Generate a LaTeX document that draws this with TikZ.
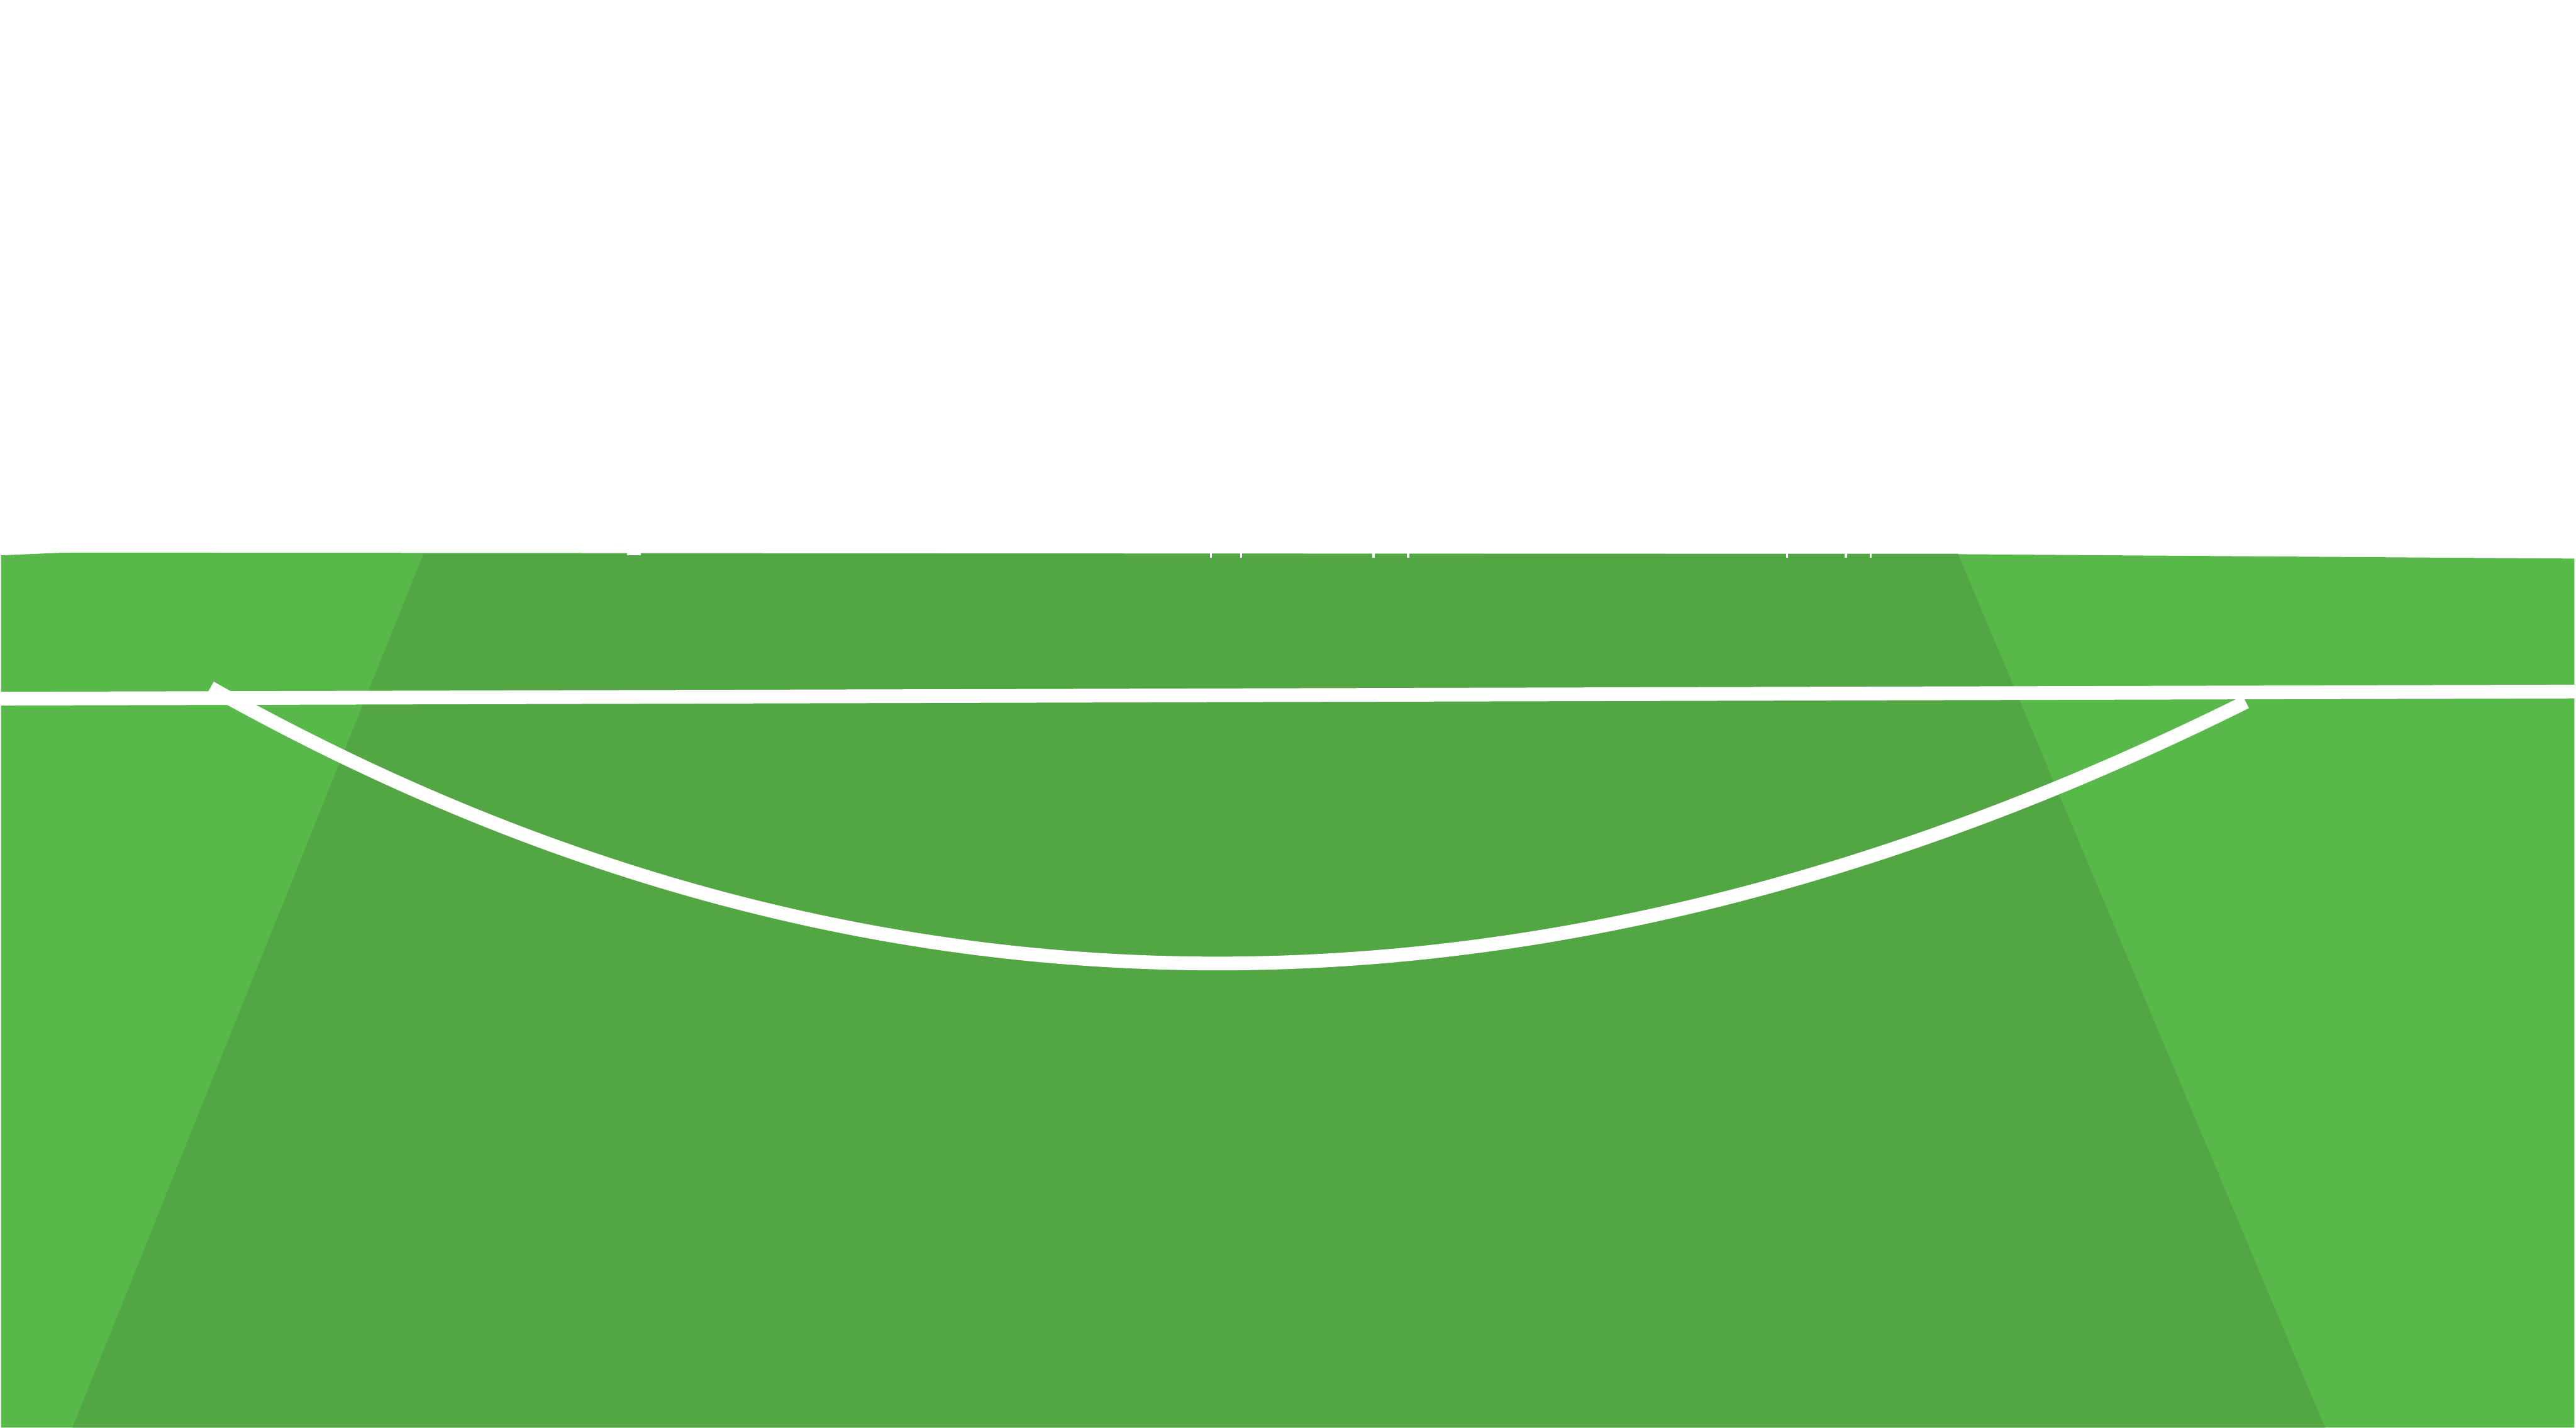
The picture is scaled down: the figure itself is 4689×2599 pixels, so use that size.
\documentclass[tikz,border=0pt]{standalone}
\begin{document}
\begin{tikzpicture}[x=1pt,y=-1pt,
  chalk/.style={white, line cap=butt}]
\definecolor{lightgrass}{RGB}{88,185,74}
\definecolor{darkgrass}{RGB}{82,166,67}
\useasboundingbox (0,0) rectangle (4689,2599);
\fill[white] (0,0) rectangle (4689,2599);
% field
\fill[lightgrass] (2,1011) -- (120,1006) -- (3567,1009) -- (4686,1017) -- (4686,2599) -- (2,2599) -- cycle;
% darker central trapezoid
\fill[darkgrass] (771,1008) -- (3564,1008) -- (4232,2599) -- (132,2599) -- cycle;
% small notches on the top edge
\foreach \nx in {2204,2259,2500,2563,3253,3360,3405}
  \fill[white] (\nx-2,1006) rectangle (\nx+2,1015);
\fill[white] (1141,1006) rectangle (1166,1011);
% straight line
\draw[chalk, line width=25pt] (0,1272) -- (4689,1259);
% arc
\draw[chalk, line width=25pt] (383,1252) .. controls (1560,1913) and (2795,1921) .. (4088,1278);
\end{tikzpicture}
\end{document}
